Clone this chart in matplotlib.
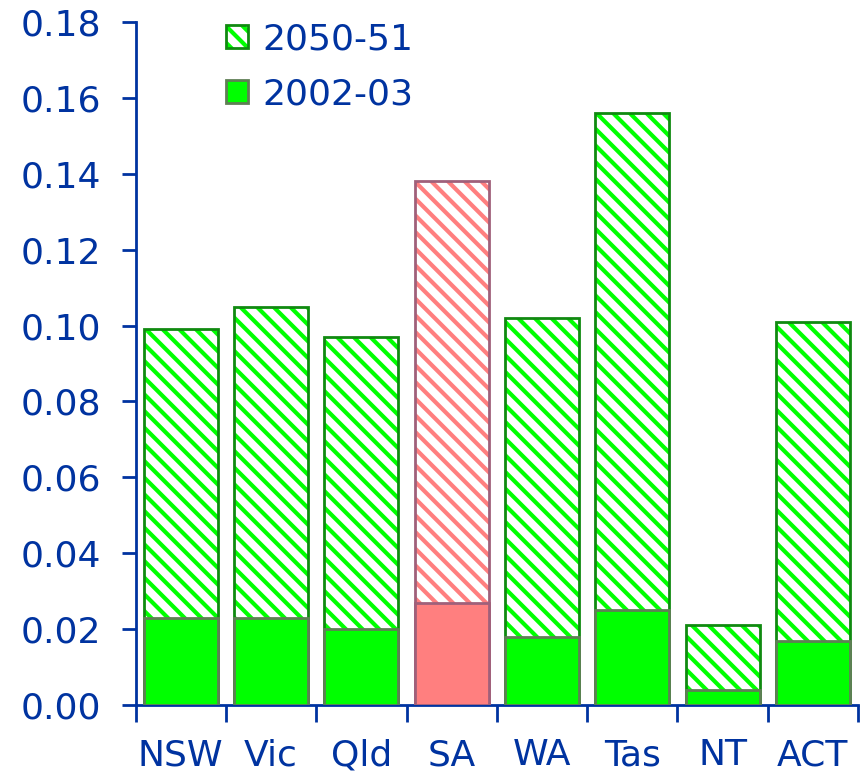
import numpy as np
import matplotlib
matplotlib.use("Agg")
import matplotlib.pyplot as plt
from matplotlib.patches import Patch

states = ["NSW", "Vic", "Qld", "SA", "WA", "Tas", "NT", "ACT"]
y2050 = [0.099, 0.105, 0.097, 0.138, 0.102, 0.156, 0.021, 0.101]
y2002 = [0.023, 0.023, 0.020, 0.027, 0.018, 0.025, 0.004, 0.017]

blue = "#0033a0"
green = "#00ff00"
pink = "#ff7f7f"

plt.rcParams["hatch.linewidth"] = 3.0
plt.rcParams["font.family"] = "DejaVu Sans"

fig = plt.figure(figsize=(8.64, 7.78), dpi=100)
ax = fig.add_axes([0.157, 0.0938, 0.836, 0.8779])

x = np.arange(len(states))
w = 0.82
fills = [pink if s == "SA" else green for s in states]
edges_h = ["#a0607a" if s == "SA" else "#108a10" for s in states]
edges_s = ["#a0607a" if s == "SA" else "#5f7f55" for s in states]

for i in range(len(states)):
    # hatched total (2050-51)
    ax.bar(x[i], y2050[i], w, color="white", edgecolor=fills[i], hatch="\\\\", linewidth=0, zorder=2)
    ax.bar(x[i], y2050[i], w, fill=False, edgecolor=edges_h[i], linewidth=2, zorder=3)
    # solid base (2002-03)
    ax.bar(x[i], y2002[i], w, color=fills[i], edgecolor=edges_s[i], linewidth=2, zorder=4)

h1 = Patch(facecolor="white", edgecolor=green, hatch="\\\\", linewidth=0)
h1b = Patch(fill=False, edgecolor="#108a10", linewidth=2)
h2 = Patch(facecolor=green, edgecolor="#5f7f55", linewidth=2)
ax.legend([(h1, h1b), h2], ["2050-51", "2002-03"], loc="upper left", bbox_to_anchor=(0.125, 1.0),
          frameon=False, fontsize=26, handlelength=0.6, handleheight=0.6,
          handletextpad=0.4, labelspacing=0.6, borderpad=0, borderaxespad=0,
          labelcolor=blue)

ax.set_xlim(-0.5, 7.5)
ax.set_ylim(0, 0.18)
yt = np.arange(0, 0.181, 0.02)
ax.set_yticks(yt)
ax.set_yticklabels(["%.2f" % v for v in yt])
ax.set_xticks(x)
ax.set_xticklabels(states)
ax.set_xticks(np.arange(-0.5, 8, 1), minor=True)

for s in ["top", "right"]:
    ax.spines[s].set_visible(False)
for s in ["left", "bottom"]:
    ax.spines[s].set_color(blue)
    ax.spines[s].set_linewidth(2)

ax.tick_params(axis="y", colors=blue, labelsize=26, length=10, width=2, pad=15)
ax.tick_params(axis="x", which="major", colors=blue, labelsize=26, length=0, pad=24)
ax.tick_params(axis="x", which="minor", color=blue, length=12, width=2)

fig.savefig("out.png", dpi=100)
